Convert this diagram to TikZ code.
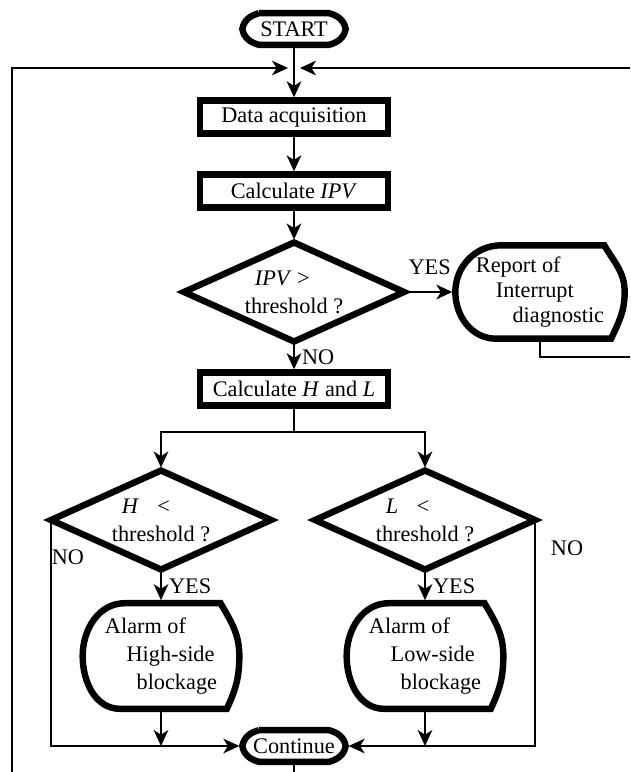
\documentclass[tikz,border=0pt]{standalone}
\usepackage{fontspec}
\setmainfont{Liberation Serif}
\usepackage{tikz}
\usetikzlibrary{calc,shapes.geometric,arrows.meta,positioning}
\tikzstyle{process}=[draw,line width=5.5pt,rectangle,minimum width=5.65cm,minimum height=1cm,inner sep=0pt,outer sep=0pt]
\tikzstyle{decision}=[draw,line width=5.5pt,diamond,aspect=2.3,minimum width=6.6cm,minimum height=2.97cm,inner sep=0pt,outer sep=0pt,align=left]
\tikzstyle{terminal}=[rectangle,minimum width=3.1cm,minimum height=0.95cm,inner sep=0pt,outer sep=0pt]
\tikzstyle{display}=[rectangle,inner sep=0pt,outer sep=0pt,align=left]
\tikzstyle{outline}=[line width=5.5pt]
\tikzstyle{wire}=[line width=1.6pt]
\tikzstyle{flow}=[wire,-{Stealth[length=0.48cm,width=0.44cm,inset=0.14cm]},shorten >=0.09cm]
\tikzstyle{answer}=[inner sep=1pt]

\begin{document}
\begin{tikzpicture}[x=0.03cm,y=-0.03cm,font=\fontsize{19}{24}\selectfont]
\useasboundingbox (0,0) rectangle (630,772);
% nodes
\draw (294,29) node [terminal] (start) {START};
\draw (294,117) node [process] (acq) {Data acquisition};
\draw (294,191) node [process] (ipv) {Calculate \textit{IPV}};
\draw (294,292) node [decision] (ipvtest) {\hspace{0.3cm}\textit{IPV} >\\threshold ?};
\draw (540,292) node [display,minimum width=5.08cm,minimum height=2.8cm,font=\fontsize{19}{21}\selectfont] (report) {Report of\\\hspace{0.6cm}Interrupt\\\hspace{1.1cm}diagnostic};
\draw (294,389) node [process] (hl) {Calculate \textit{H} and \textit{L}};
\draw (161,520) node [decision] (htest) {\hspace{0.3cm}\textit{H}\hspace{0.55cm}<\\threshold ?};
\draw (425,520) node [decision] (ltest) {\hspace{0.3cm}\textit{L}\hspace{0.55cm}<\\threshold ?};
\draw (161,656) node [display,minimum width=4.7cm,minimum height=3.17cm] (alarmh) {Alarm of\\\hspace{0.65cm}High-side\\\hspace{0.95cm}blockage};
\draw (425,656) node [display,minimum width=4.7cm,minimum height=3.17cm] (alarml) {Alarm of\\\hspace{0.65cm}Low-side\\\hspace{0.95cm}blockage};
\draw (294,746) node [terminal] (cont) {Continue};
% outlines of the terminals and displays
\foreach \n in {start,cont}
  \draw[outline] ($(\n.north west)+(0.5cm,0)$) -- ($(\n.north east)+(-0.5cm,0)$)
    to[out=-15,in=100] (\n.east) to[out=-100,in=15] ($(\n.south east)+(-0.5cm,0)$)
    -- ($(\n.south west)+(0.5cm,0)$) to[out=165,in=-80] (\n.west)
    to[out=80,in=195] ($(\n.north west)+(0.5cm,0)$);
\foreach \n in {report,alarmh,alarml}
  \draw[outline] ($(\n.north west)!0.27!(\n.north east)$) -- ($(\n.north west)!0.88!(\n.north east)$)
    to[out=-60,in=90] (\n.east) to[out=-90,in=65] ($(\n.south west)!0.92!(\n.south east)$)
    -- ($(\n.south west)!0.24!(\n.south east)$) to[out=180,in=-90] (\n.west)
    to[out=90,in=180] ($(\n.north west)!0.27!(\n.north east)$);
% loop back
\coordinate (loopl) at (12,772);
\coordinate (loopr) at (630,68);
\coordinate (joinl) at (288,68);
\coordinate (joinr) at (300,68);
\coordinate (repout) at (630,357);
\coordinate (split) at (294,432);
\coordinate (contout) at (294,772);
\draw[flow,shorten >=0pt] (loopl) |- (joinl);
\draw[flow,shorten >=0pt] (loopr) -- (joinr);
% main flow
\draw[flow] (start.south) -- (acq.north);
\draw[flow] (acq.south) -- (ipv.north);
\draw[flow] (ipv.south) -- (ipvtest.north);
\draw[flow] (ipvtest.east) -- (report.west) node[midway,above=0.45cm,answer] (yesipv) {YES};
\draw[wire] (report.south) |- (repout);
\draw[flow] (ipvtest.south) -- (hl.north) node[midway,right=0.18cm,answer] (noipv) {NO};
\draw[wire] (hl.south) -- (split);
\draw[flow] (split) -| (htest.north);
\draw[flow] (split) -| (ltest.north);
\draw[flow] (htest.south) -- (alarmh.north) node[midway,right=0.18cm,answer] (yesh) {YES};
\draw[flow] (ltest.south) -- (alarml.north) node[midway,right=0.18cm,answer] (yesl) {YES};
\draw[flow] (htest.west) |- (cont.west);
\draw[flow] (ltest.east) |- (cont.east);
\draw[flow,shorten >=0pt] (alarmh.south) -- (alarmh.south |- cont.west);
\draw[flow,shorten >=0pt] (alarml.south) -- (alarml.south |- cont.east);
\draw[wire] (cont.south) -- (contout);
\node[answer] (noh) at (68,557) {NO};
\node[answer] (nol) at (567,548) {NO};
\end{tikzpicture}
\end{document}
